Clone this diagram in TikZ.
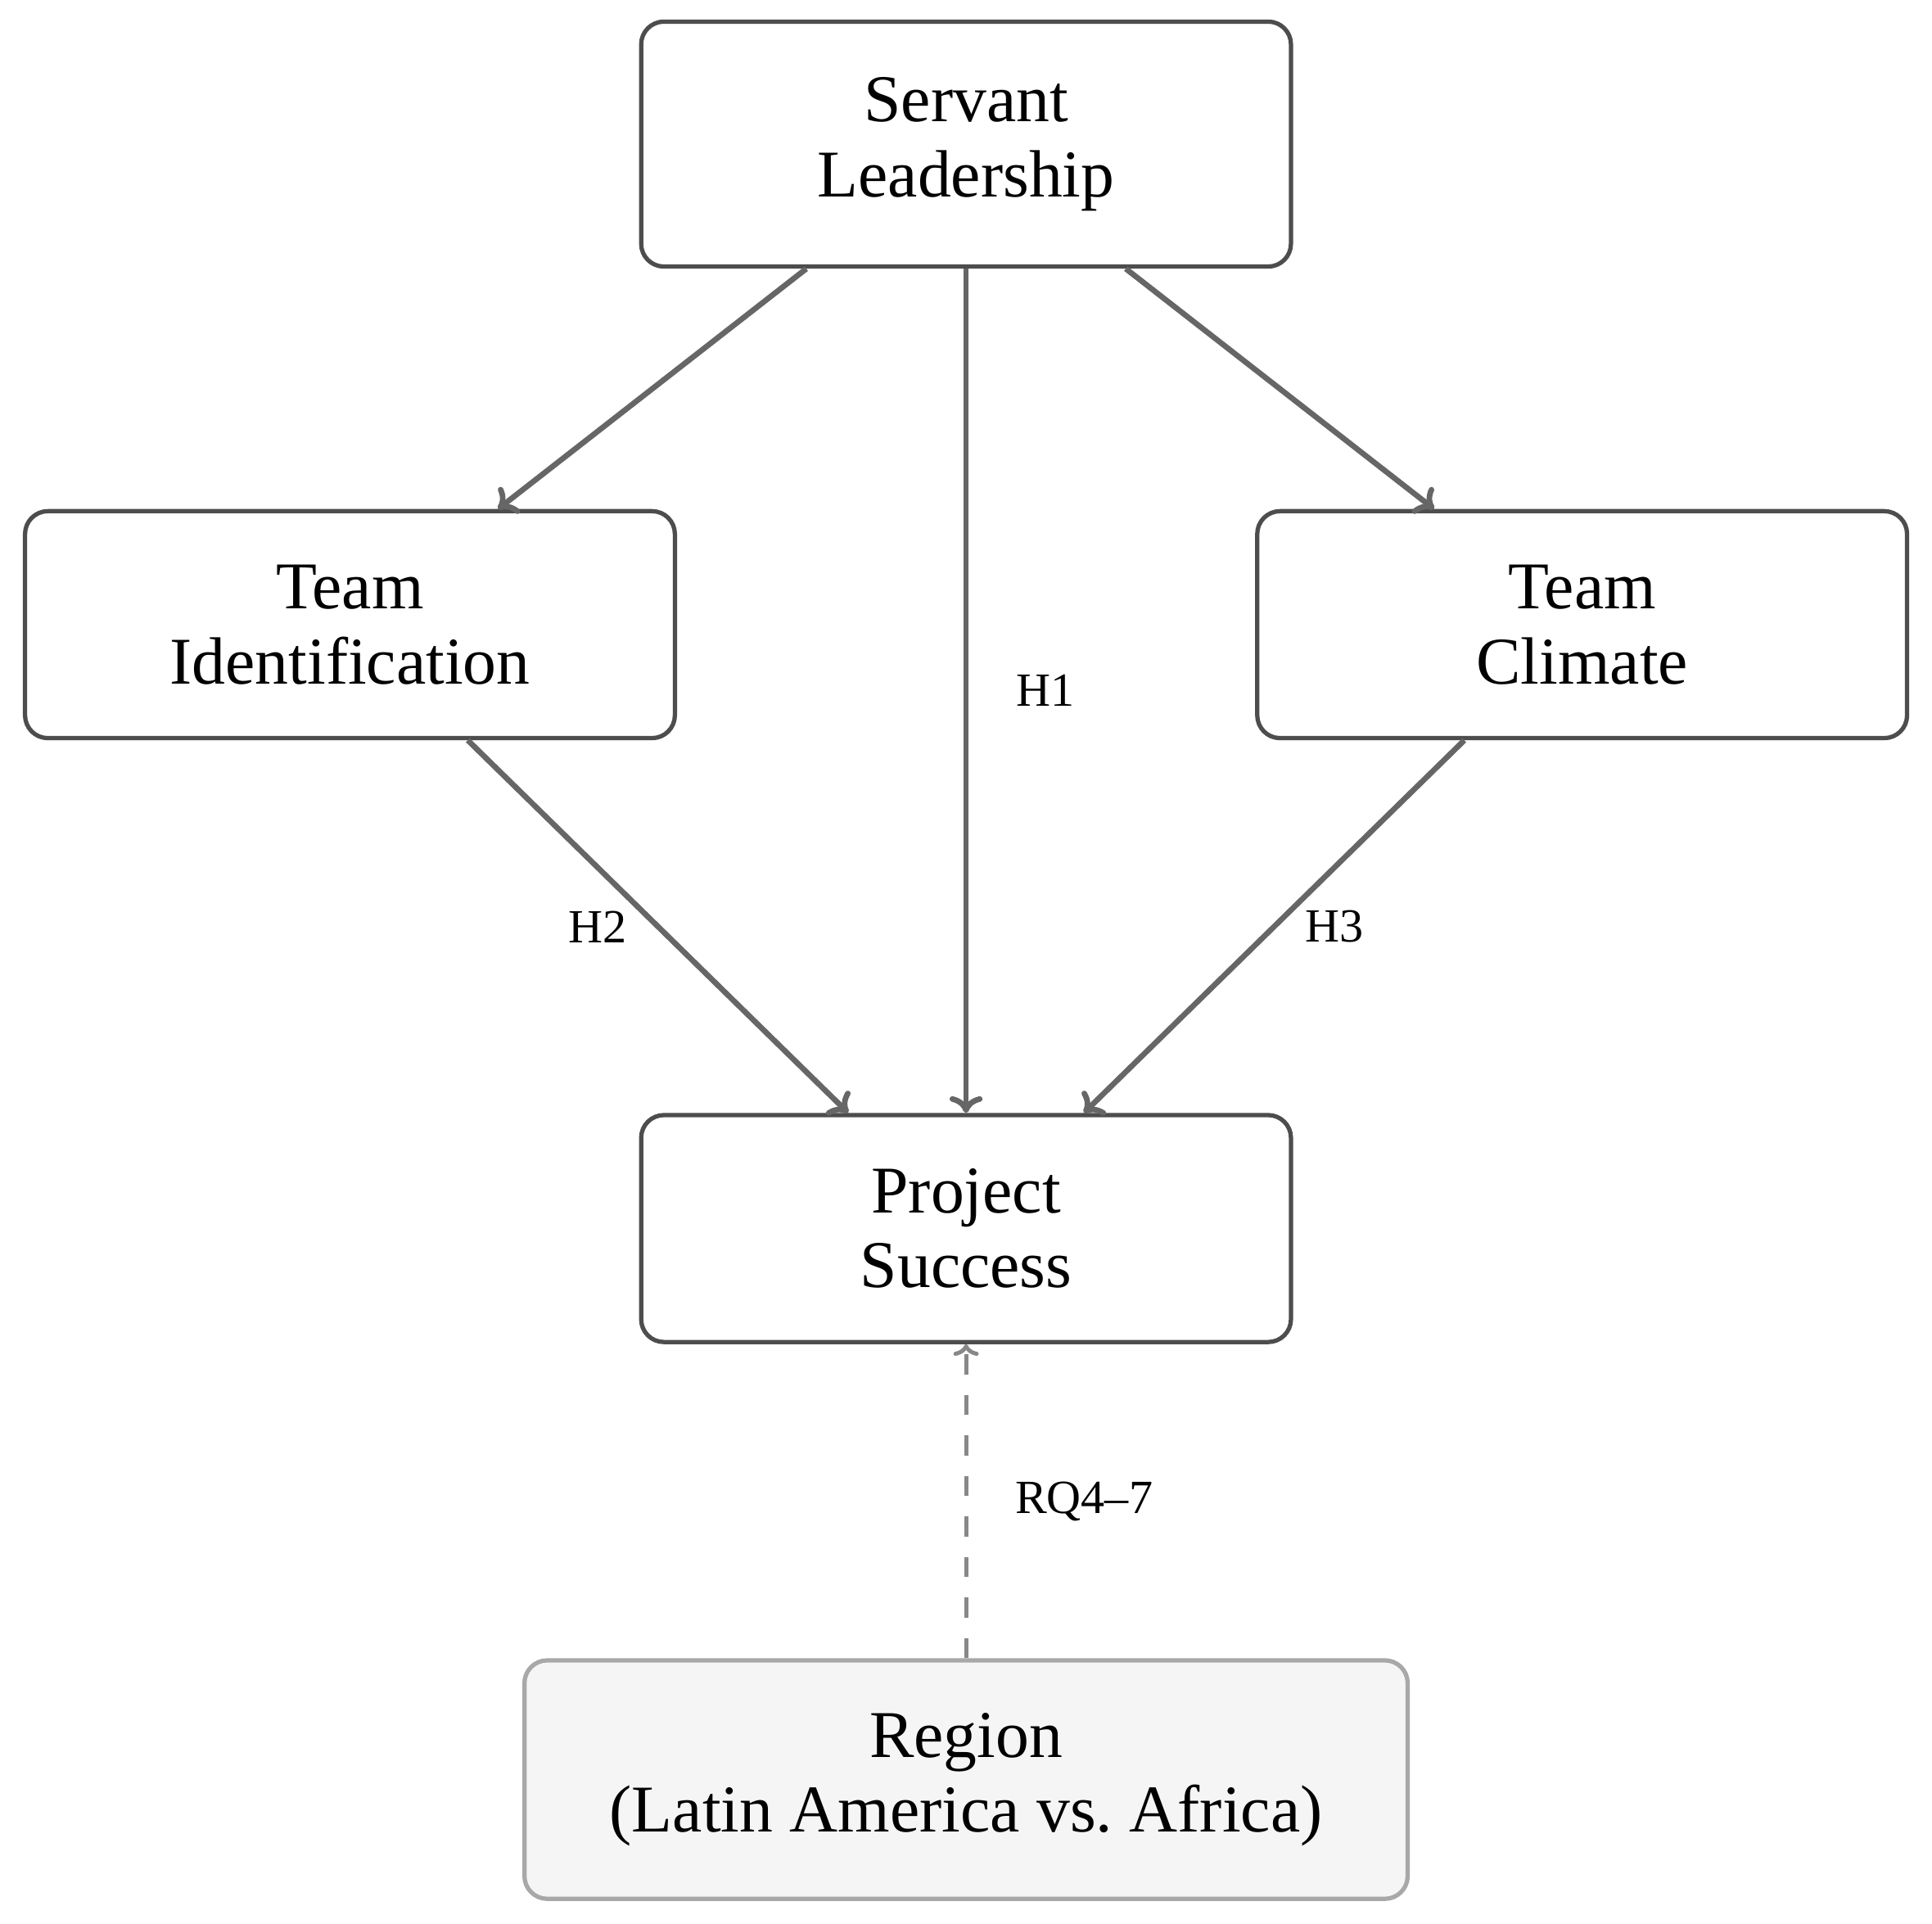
\documentclass[tikz,border=0pt]{standalone}
\usepackage{fontspec}
\setmainfont{Liberation Serif}
\usetikzlibrary{arrows.meta,positioning}

\definecolor{boxline}{HTML}{4D4D4D}
\definecolor{linkline}{HTML}{666666}
\definecolor{modline}{HTML}{888888}
\definecolor{regionline}{HTML}{A8A8A8}
\definecolor{regionfill}{HTML}{F5F5F5}

\begin{document}
\begin{tikzpicture}[
  box/.style={draw=boxline, line width=0.85pt, rounded corners=4.5pt, fill=white, align=center,
    minimum width=4.51cm, minimum height=1.575cm, font=\fontsize{13.2}{14.8}\selectfont},
  regionbox/.style={box, draw=regionline, fill=regionfill, minimum width=6.13cm, minimum height=1.655cm},
  link/.style={draw=linkline, line width=1.1pt, -{To[length=3.3pt,width=6.5pt]}},
  modlink/.style={draw=modline, line width=0.8pt, dash pattern=on 4pt off 4pt, -{To[length=2.3pt,width=5pt]}},
  hyp/.style={font=\fontsize{9.4}{11}\selectfont, text=black}
]
\useasboundingbox (-6.705,1.0) rectangle (6.704,-12.352);

% constructs
\node[box, minimum height=1.70cm] (SL) at (0,0) {Servant\\Leadership};
\node[box] (TI) at (-4.276,-3.335) {Team\\Identification};
\node[box] (TC) at (4.276,-3.335) {Team\\Climate};
\node[box] (PS) at (0,-7.526) {Project\\Success};
\node[regionbox] (RG) at (0,-11.35) {Region\\(Latin America vs.\ Africa)};

% paths
\draw[link] (SL) -- (TI);
\draw[link] (SL) -- (TC);
\draw[link] (SL) -- node[hyp, midway, right=0.21cm] {H1} (PS);
\draw[link] (TI) -- node[hyp, midway, left=0.08cm] {H2} (PS);
\draw[link] (TC) -- node[hyp, midway, right=0.08cm] {H3} (PS);
\draw[modlink] (RG) -- node[hyp, midway, right=0.21cm] {RQ4--7} (PS);
\end{tikzpicture}
\end{document}
